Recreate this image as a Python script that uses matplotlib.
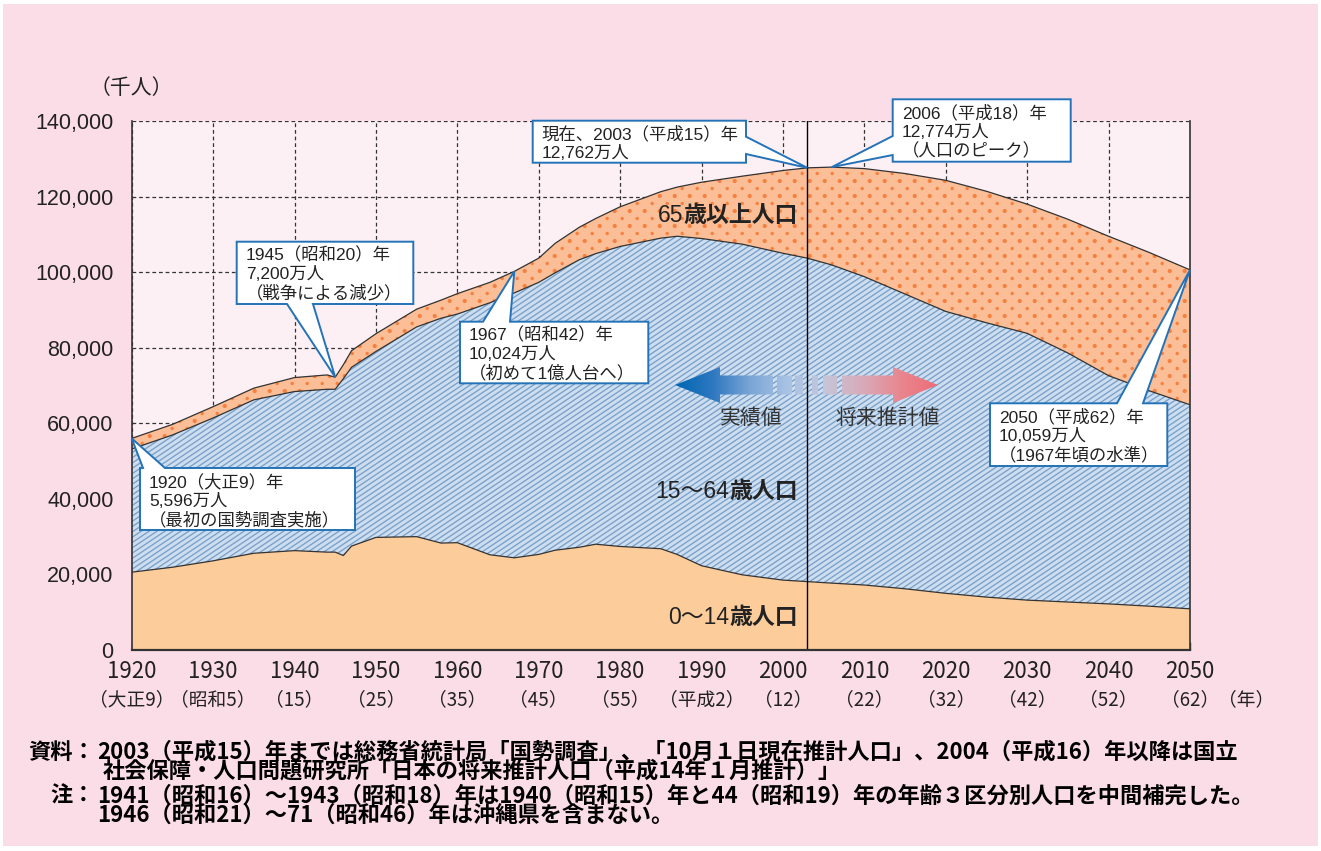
import numpy as np
import matplotlib
matplotlib.use('Agg')
import matplotlib.pyplot as plt
from matplotlib.patches import Polygon, PathPatch, Rectangle
from matplotlib.path import Path
from matplotlib.collections import LineCollection
from matplotlib.colors import LinearSegmentedColormap

plt.rcParams['font.family'] = ['Liberation Sans', 'Noto Sans CJK JP']
CJK = ['Noto Sans CJK JP', 'DejaVu Sans']
NARROW = ['Liberation Sans Narrow', 'Noto Sans CJK JP']

# ---- data (千人) ----
years = [1920, 1925, 1930, 1935, 1940, 1944, 1945, 1946, 1947, 1950,
         1955, 1958, 1960, 1964, 1967, 1970, 1972, 1975, 1977, 1980,
         1985, 1987, 1990, 1995, 2000, 2003, 2006, 2010, 2015, 2020,
         2025, 2030, 2035, 2040, 2045, 2050]
age0_14 = [20600, 21900, 23600, 25600, 26300, 25900, 25900, 25000, 27500, 29800,
           30000, 28300, 28400, 25200, 24400, 25300, 26400, 27200, 28000, 27400,
           26800, 25300, 22300, 19900, 18500, 18100, 17700, 17200, 16200, 15000,
           14000, 13200, 12700, 12200, 11600, 10900]
age15_64 = [32600, 35000, 37800, 40600, 42100, 43100, 43100, 46800, 47300, 49200,
            55500, 59500, 60500, 66700, 70100, 72000, 73400, 76100, 76900, 79400,
            82200, 84200, 86600, 87500, 86500, 85600, 84200, 81600, 78000, 74600,
            72600, 70600, 65900, 60400, 57000, 54000]
age65 = [2800, 2800, 3000, 3100, 3700, 3800, 3200, 3700, 4400, 4700,
         4700, 4800, 5400, 5400, 5700, 6400, 7800, 8600, 9300, 10500,
         12300, 13000, 14900, 18000, 21900, 23900, 25900, 28600, 31900, 34700,
         34800, 34200, 35400, 36900, 36600, 35700]

xticks = list(range(1920, 2051, 10))
era_labels = ['（大正9）', '（昭和5）', '（15）', '（25）', '（35）', '（45）', '（55）',
              '（平成2）', '（12）', '（22）', '（32）', '（42）', '（52）', '（62）']
yticks = list(range(0, 140001, 20000))

callouts = [
    (1920, ['1920（大正9）年', '5,596万人', '（最初の国勢調査実施）']),
    (1945, ['1945（昭和20）年', '7,200万人', '（戦争による減少）']),
    (1967, ['1967（昭和42）年', '10,024万人', '（初めて1億人台へ）']),
    (2003, ['現在、2003（平成15）年', '12,762万人']),
    (2006, ['2006（平成18）年', '12,774万人', '（人口のピーク）']),
    (2050, ['2050（平成62）年', '10,059万人', '（1967年頃の水準）']),
]

# ---- colours ----
BG = '#FBDDE8'
PLOT_BG = '#FDF0F4'
C_CHILD = '#FDCC9B'
C_WORK = '#CDDEF0'
C_WORK_H = '#7AA0C8'
C_OLD = '#FBBE96'
C_OLD_H = '#F5803F'
C_LINE = '#333333'
C_BOX = '#2472B8'

W, H = 1321, 851
L, R, T, B = 131.7, 1190, 121, 650

fig = plt.figure(figsize=(W / 100, H / 100), dpi=100, facecolor='white')
fig.add_artist(Rectangle((3 / W, 5 / H), (W - 6) / W, (H - 9) / H, transform=fig.transFigure,
                         facecolor=BG, edgecolor='none', zorder=-10))
ax = fig.add_axes([L / W, 1 - B / H, (R - L) / W, (B - T) / H])
ax.set_xlim(1920, 2050)
ax.set_ylim(0, 140000)
ax.set_facecolor(PLOT_BG)
inv = ax.transData.inverted()


def px(x, y):
    return inv.transform((x, H - y))


yr = np.array(years)
c = np.array(age0_14)
w = np.array(age15_64)
o = np.array(age65)
b1 = c
b2 = c + w
b3 = c + w + o

ax.fill_between(yr, 0, b1, facecolor=C_CHILD, lw=0, zorder=2)
fw = ax.fill_between(yr, b1, b2, facecolor=C_WORK, lw=0, zorder=2)
fo = ax.fill_between(yr, b2, b3, facecolor=C_OLD, lw=0, zorder=2)

# diagonal stripe texture for 15-64 band (pixel spacing, clipped to the band)
slope, gap = 0.67, 5.3
ks = np.arange(-slope * (R - L), (B - T) + gap, gap)
segs = []
for k in ks:
    p0 = inv.transform((L, H - B + k))
    p1 = inv.transform((R, H - B + k + slope * (R - L)))
    segs.append([p0, p1])
stripes = LineCollection(segs, colors=C_WORK_H, linewidths=0.95, zorder=2.2)
ax.add_collection(stripes)
stripes.set_clip_path(fw.get_paths()[0], ax.transData)

# dot texture for 65+ band
dots_x, dots_y, sizes = [], [], []
for i, yy in enumerate(np.arange(T, B, 7.5)):
    x0 = L + (7.5 if i % 2 else 0) + 3
    for xx in np.arange(x0, R, 15):
        dots_x.append(xx)
        dots_y.append(H - yy)
        sizes.append(9 if i % 2 == 0 else 6)
dd = inv.transform(np.column_stack([dots_x, dots_y]))
sc = ax.scatter(dd[:, 0], dd[:, 1], s=sizes, color=C_OLD_H, linewidths=0, zorder=2.2)
sc.set_clip_path(fo.get_paths()[0], ax.transData)

for line in (b1, b2, b3):
    ax.plot(yr, line, color=C_LINE, lw=0.9, zorder=3)

ax.axvline(2003, color='black', lw=1.0, zorder=5)

# grid / spines
ax.set_axisbelow(True)
ax.grid(True, ls=(0, (3, 2.3)), color=C_LINE, lw=0.9)
ax.spines['top'].set_visible(False)
for s in ('left', 'bottom', 'right'):
    ax.spines[s].set_color(C_LINE)
    ax.spines[s].set_zorder(6)
ax.spines['left'].set_linewidth(1.2)
ax.spines['right'].set_linewidth(1.2)
ax.spines['bottom'].set_linewidth(1.6)

ax.set_yticks(yticks)
ax.set_yticklabels([f'{v:,}' for v in yticks], fontsize=15.5, color='#222222')
ax.tick_params(axis='y', length=0, pad=13)
ax.set_xticks(xticks)
ax.set_xticklabels([])
ax.tick_params(axis='x', direction='in', length=6, width=1, color=C_LINE)
xt = ax.get_xaxis_transform()
for x, era in zip(xticks, era_labels):
    ax.text(x, -(672 - B) / (B - T), str(x), transform=xt, ha='center', va='center',
            fontsize=16, family=NARROW, color='#222222')
    ax.text(x, -(700 - B) / (B - T), era, transform=xt, ha='center', va='center',
            fontsize=13.5, family=NARROW, color='#222222')
fig.text(1246 / W, 1 - 700 / H, '（年）', ha='center', va='center', fontsize=13.5, family=CJK, color='#222222')
fig.text(131 / W, 1 - 88 / H, '（千人）', ha='center', va='center', fontsize=15, family=CJK, color='#222222')

# gradient arrow
yc = 385


def rect(x0, x1, h=9.5):
    return [(x0, yc - h), (x1, yc - h), (x1, yc + h), (x0, yc + h)]


pieces = [
    [(675, yc), (720, yc - 18), (720, yc - 9.5), (773, yc - 9.5), (773, yc + 9.5), (720, yc + 9.5), (720, yc + 18)],
    rect(777, 792), rect(795, 803), rect(812, 818), rect(823, 837),
    [(842, yc - 9.5), (893, yc - 9.5), (893, yc - 18), (938, yc), (893, yc + 18), (893, yc + 9.5), (842, yc + 9.5)],
]
paths = []
for poly in pieces:
    verts = [px(*p) for p in poly] + [px(*poly[0])]
    paths.append(Path(np.array(verts), closed=True))
clip = PathPatch(Path.make_compound_path(*paths), transform=ax.transData,
                 facecolor='none', edgecolor='none')
ax.add_patch(clip)
cmap = LinearSegmentedColormap.from_list('arr', ['#0066B3', '#2E78C0', '#7BA6D6', '#A9C3E4',
                                                 '#C6C5D8', '#D9AAB8', '#E8868F', '#EE6C77'])
ax0, ay0 = px(675, yc + 18)
ax1, ay1 = px(938, yc - 18)
im = ax.imshow(np.linspace(0, 1, 256).reshape(1, -1), cmap=cmap, extent=[ax0, ax1, ay0, ay1],
               aspect='auto', interpolation='bilinear', zorder=4)
im.set_clip_path(clip)
ax.set_xlim(1920, 2050)
ax.set_ylim(0, 140000)
ax.text(*px(751, 418), '実績値', ha='center', va='center', fontsize=15, family=CJK, color='#333333', zorder=7)
ax.text(*px(887.5, 418), '将来推計値', ha='center', va='center', fontsize=15, family=CJK, color='#333333', zorder=7)

# area labels (number regular, kanji bold)
renderer = fig.canvas.get_renderer()


def area_label(xr, y, num, kanji):
    t = fig.text(xr / W, 1 - y / H, kanji, ha='right', va='center', fontsize=16.5,
                 fontweight='bold', family=CJK, color='#222222', zorder=8)
    bb = t.get_window_extent(renderer)
    fig.text(bb.x0 / W, 1 - y / H, num, ha='right', va='center', fontsize=16.5,
             family=['Liberation Sans', 'Noto Sans CJK JP'], color='#222222', zorder=8)


area_label(798, 215, '65', '歳以上人口')
area_label(798, 492, '15～64', '歳人口')
area_label(798, 618, '0～14', '歳人口')

# callouts: box in px (x0, y0, x1, y1), side, base a, b
layout = {
    1920: ((140, 468, 355, 530), 'top', 143, 165),
    1945: ((236.7, 241.7, 413.3, 304), 'bottom', 287, 313),
    1967: ((460, 321.7, 648.3, 383.3), 'top', 483, 510),
    2003: ((532.7, 120.7, 746, 162.7), 'right', 136.7, 154),
    2006: ((892.7, 99.3, 1070.7, 161.7), 'left', 136, 155),
    2050: ((990, 403.3, 1167.3, 466), 'top', 1117, 1143),
}
total = dict(zip(years, b3))
for yr_c, lines in callouts:
    (x0, y0, x1, y1), side, a, b = layout[yr_c]
    tip = (yr_c, total[yr_c])
    v = [px(x0, y0)]
    if side == 'top':
        v += [px(a, y0), tip, px(b, y0)]
    v += [px(x1, y0)]
    if side == 'right':
        v += [px(x1, a), tip, px(x1, b)]
    v += [px(x1, y1)]
    if side == 'bottom':
        v += [px(b, y1), tip, px(a, y1)]
    v += [px(x0, y1)]
    if side == 'left':
        v += [px(x0, b), tip, px(x0, a)]
    ax.add_patch(Polygon(v, closed=True, facecolor='white', edgecolor=C_BOX, lw=1.4,
                         zorder=9, clip_on=False, joinstyle='miter'))
    for i, s in enumerate(lines):
        ax.text(*px(x0 + 9, y0 + 13.5 + 19 * i), s, ha='left', va='center', fontsize=12.5,
                color='#222222', zorder=10, clip_on=False)

# footnotes
fn = dict(fontsize=16, fontweight='bold', family=CJK, va='center', color='black')
fig.text(28 / W, 1 - 752 / H, '資料：', **fn)
fig.text(97 / W, 1 - 752 / H, '2003（平成15）年までは総務省統計局「国勢調査」、「10月１日現在推計人口」、2004（平成16）年以降は国立', **fn)
fig.text(103 / W, 1 - 771 / H, '社会保障・人口問題研究所「日本の将来推計人口（平成14年１月推計）」', **fn)
fig.text(50 / W, 1 - 796 / H, '注：', **fn)
fig.text(97 / W, 1 - 796 / H, '1941（昭和16）～1943（昭和18）年は1940（昭和15）年と44（昭和19）年の年齢３区分別人口を中間補完した。', **fn)
fig.text(97 / W, 1 - 815 / H, '1946（昭和21）～71（昭和46）年は沖縄県を含まない。', **fn)

fig.savefig('out.png', dpi=100, facecolor=fig.get_facecolor())
